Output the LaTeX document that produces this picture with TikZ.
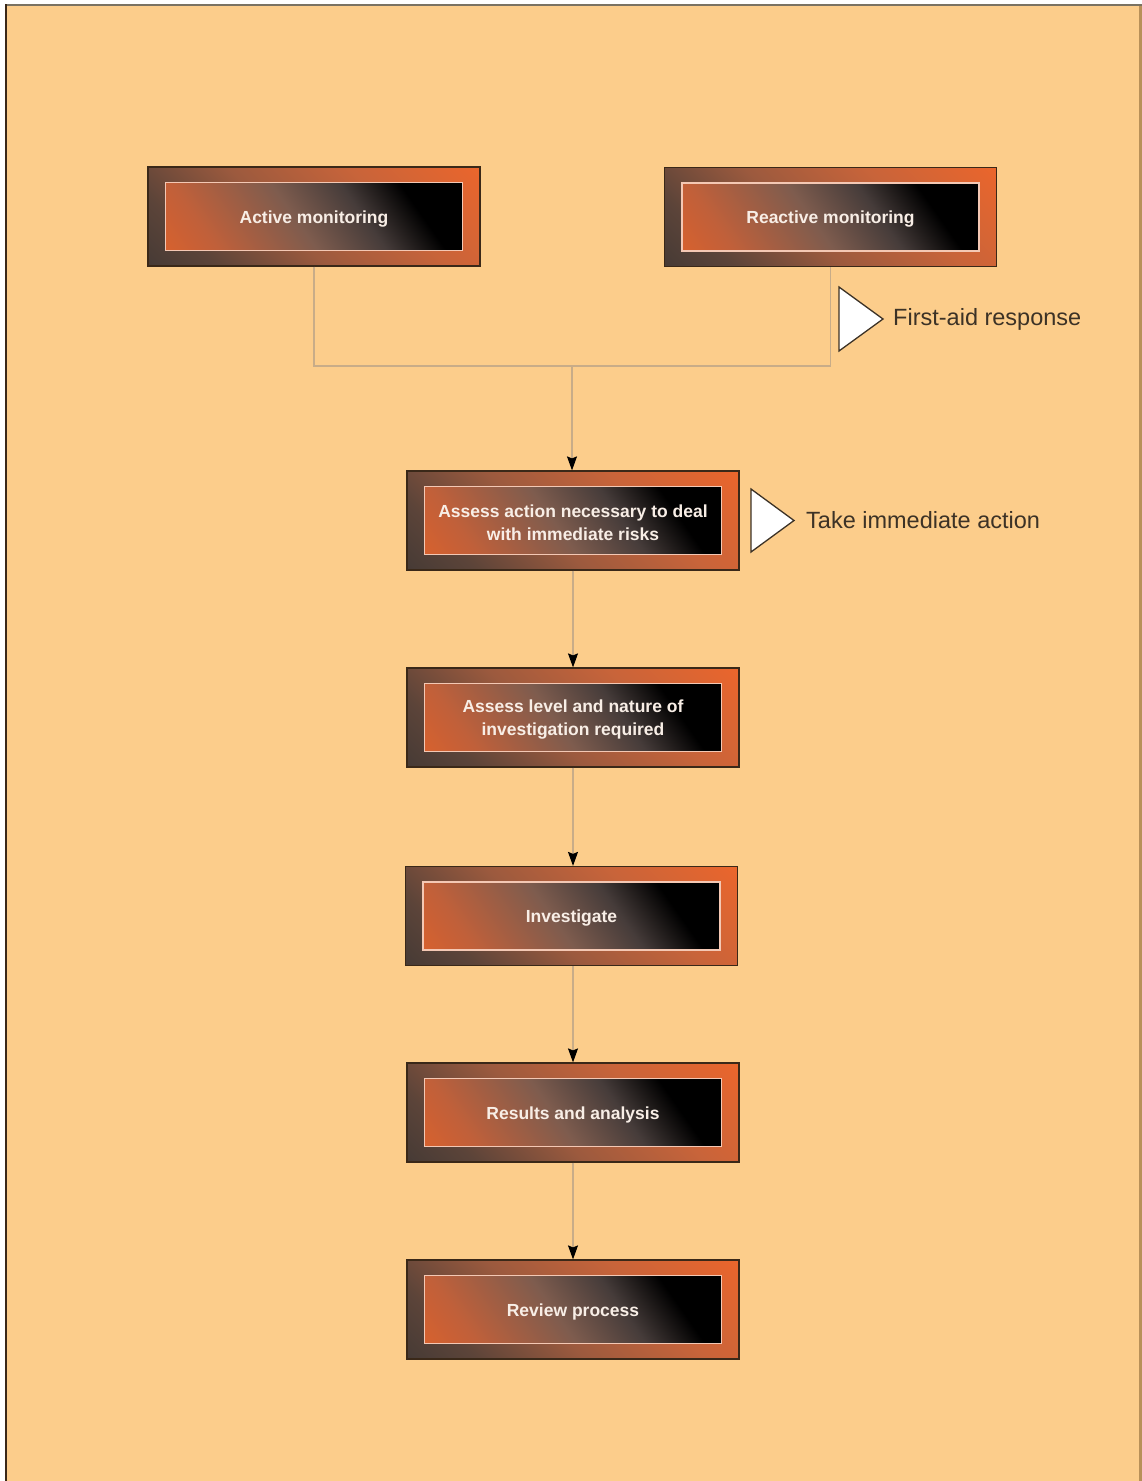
\documentclass[tikz,border=0pt]{standalone}
\usepackage{fontspec}
\setmainfont{Liberation Sans}
\usetikzlibrary{arrows.meta}
\definecolor{bg}{HTML}{FCCD8B}
\definecolor{odark}{HTML}{453A35}
\definecolor{omidA}{HTML}{5C4439}
\definecolor{omidB}{HTML}{9C5A3E}
\definecolor{omidC}{HTML}{C8643A}
\definecolor{oorange}{HTML}{F26629}
\definecolor{iorange}{HTML}{D9612D}
\definecolor{imidA}{HTML}{C0603A}
\definecolor{imidB}{HTML}{7E5C4E}
\definecolor{imidC}{HTML}{463C3A}
\definecolor{iblack}{HTML}{000000}
\definecolor{iedge}{HTML}{2A2626}
\definecolor{obord}{HTML}{3A2818}
\definecolor{ibord}{HTML}{F4C8B4}
\definecolor{conncol}{HTML}{C8AC88}
\definecolor{lblcol}{HTML}{3C3226}
\definecolor{boxtext}{HTML}{F8EEE6}
\definecolor{topline}{HTML}{7A7262}
\definecolor{leftline}{HTML}{3A2818}
\definecolor{rightline}{HTML}{B89058}
\pgfdeclarehorizontalshading{outersh}{100bp}{color(0bp)=(odark); color(14bp)=(odark); color(26bp)=(omidA); color(44bp)=(omidB); color(64bp)=(omidC); color(90bp)=(oorange); color(100bp)=(oorange)}
\pgfdeclarehorizontalshading{innersh}{100bp}{color(0bp)=(iorange); color(14bp)=(iorange); color(26bp)=(imidA); color(46bp)=(imidB); color(60bp)=(imidC); color(72bp)=(iblack); color(88bp)=(iblack); color(100bp)=(iedge)}
\tikzset{
  outbox/.style={draw=obord, line width=1.2pt, shade, shading=outersh, shading angle=45,
    minimum width=332pt, minimum height=99pt, inner sep=0pt},
  inbox/.style={draw=ibord, line width=1.4pt, shade, shading=innersh, shading angle=35,
    minimum width=297pt, minimum height=68pt, inner sep=0pt},
  boxlabel/.style={text=boxtext, align=center, inner sep=0pt,
    font=\bfseries\fontsize{17.5}{23}\selectfont},
  conn/.style={draw=conncol, line width=1.3pt},
  arr/.style={-{Stealth[length=14pt,width=10pt,inset=2pt,black]}},
  tri/.style={draw=lblcol, fill=white, line width=1.3pt, line join=miter},
  lbl/.style={text=lblcol, anchor=west, inner sep=0pt, font=\fontsize{23.5}{28}\selectfont}
}
\newcommand\flowbox[4]{%
  \node[outbox] (#1) at (#2,#3) {};
  \node[inbox] (#1-in) at (#1.center) {};
  \node[boxlabel] (#1-t) at ([yshift=-2.5pt]#1.center) {#4};}
\begin{document}
\begin{tikzpicture}[x=1pt,y=-1pt]
\useasboundingbox (0,0) rectangle (1142,1481);
\fill[white] (0,0) rectangle (1142,1481);
\fill[bg] (6,4.5) rectangle (1142,1481);
\fill[rightline] (1139,4.5) rectangle (1142,1481);
\draw[topline, line width=2pt] (6,4.5) -- (1142,4.5);
\draw[leftline, line width=2pt] (6,4) -- (6,1481);

\flowbox{act}{314}{216.5}{Active monitoring}
\flowbox{react}{830.5}{217}{Reactive monitoring}
\flowbox{imm}{573}{520.5}{Assess action necessary to deal\\with immediate risks}
\flowbox{lvl}{573}{717.5}{Assess level and nature of\\investigation required}
\flowbox{inv}{571.5}{916}{Investigate}
\flowbox{res}{573}{1112.5}{Results and analysis}
\flowbox{rev}{573}{1309.5}{Review process}

\coordinate (join) at (572,366);
\draw[conn] (act.south) -- (act.south |- join) -- (react.south |- join) -- (react.south);
\draw[conn, arr] (join) -- (join |- imm.north);
\draw[conn, arr] (imm.south) -- (imm.south |- lvl.north);
\draw[conn, arr] (lvl.south) -- (lvl.south |- inv.north);
\draw[conn, arr] (lvl.south |- inv.south) -- (lvl.south |- res.north);
\draw[conn, arr] (res.south) -- (res.south |- rev.north);

\draw[tri] (839,287) -- (839,351) -- (883,319) -- cycle;
\node[lbl] (fa) at (893,319) {First-aid response};
\draw[tri] (751,489) -- (751,552) -- (794,520.5) -- cycle;
\node[lbl] (ta) at (806,520.5) {Take immediate action};
\end{tikzpicture}
\end{document}
